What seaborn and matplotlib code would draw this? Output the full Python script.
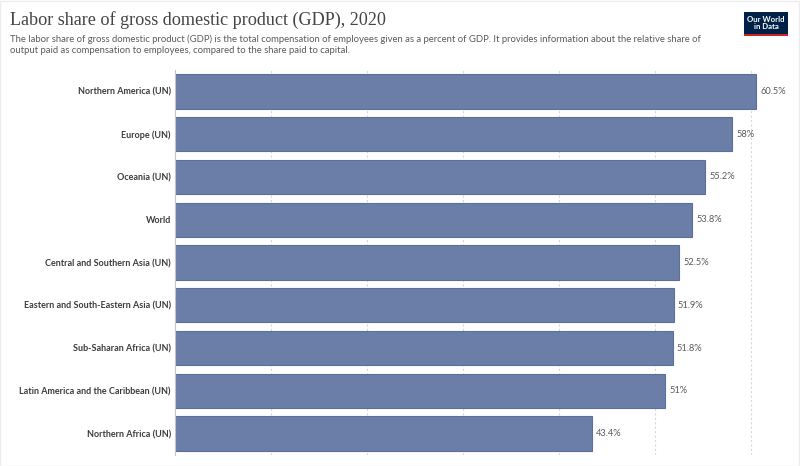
import matplotlib
matplotlib.use("Agg")
import matplotlib.pyplot as plt
import matplotlib.patches as mpatches
import pandas as pd
import seaborn as sns

regions = [
    "Northern America (UN)",
    "Europe (UN)",
    "Oceania (UN)",
    "World",
    "Central and Southern Asia (UN)",
    "Eastern and South-Eastern Asia (UN)",
    "Sub-Saharan Africa (UN)",
    "Latin America and the Caribbean (UN)",
    "Northern Africa (UN)",
]
labor_share = [60.5, 58.0, 55.2, 53.8, 52.5, 51.9, 51.8, 51.0, 43.4]
value_labels = ["60.5%", "58%", "55.2%", "53.8%", "52.5%", "51.9%", "51.8%", "51%", "43.4%"]
grid_ticks = [10, 20, 30, 40, 50, 60]

TITLE = "Labor share of gross domestic product (GDP), 2020"
SUBTITLE = ("The labor share of gross domestic product (GDP) is the total compensation of employees given as a percent of GDP. "
            "It provides information about the relative share of\n"
            "output paid as compensation to employees, compared to the share paid to capital.")

df = pd.DataFrame({"region": regions, "share": labor_share})

sns.set_theme(style="white")
plt.rcParams["font.family"] = ["Lato", "DejaVu Sans"]

fig = plt.figure(figsize=(8, 4.66), dpi=100)
ax = fig.add_axes([175 / 800, 1 - 455 / 466, 610 / 800, 385 / 466])

sns.barplot(data=df, x="share", y="region", orient="h", color="#6a7ea7",
            saturation=1, width=0.8, edgecolor="#5b6f99", linewidth=0.8, ax=ax)

ax.set_xlim(0, 63.5)
ax.set_ylim(len(regions) - 0.5, -0.5)
ax.set_xticks(grid_ticks)
ax.set_xticklabels([])
ax.tick_params(axis="x", length=0)
ax.tick_params(axis="y", length=0, pad=3)
for lbl in ax.get_yticklabels():
    lbl.set_fontsize(6.45)
    lbl.set_fontweight("bold")
    lbl.set_color("#3d3d3d")
ax.xaxis.grid(True, linestyle=(0, (2, 2)), color="#d8d8d8", linewidth=0.8)
ax.set_axisbelow(True)
for side in ["top", "right", "bottom"]:
    ax.spines[side].set_visible(False)
ax.spines["left"].set_color("#c4c4c4")
ax.spines["left"].set_linewidth(0.8)
ax.set_xlabel("")
ax.set_ylabel("")

for i, (v, t) in enumerate(zip(labor_share, value_labels)):
    ax.text(v + 0.45, i, t, va="center", ha="left", fontsize=6.7, color="#5b5b5b")

fig.text(10 / 800, 1 - 20 / 466, TITLE, family="Liberation Serif", fontsize=13.1,
         color="#444444", va="center", ha="left")
fig.text(10 / 800, 1 - 34 / 466, SUBTITLE, fontsize=6.8, color="#5b5b5b",
         va="top", ha="left", linespacing=1.3)

# logo
logo = mpatches.Rectangle((744 / 800, 1 - 36 / 466), 44 / 800, 24 / 466,
                          transform=fig.transFigure, facecolor="#002147", edgecolor="none")
stripe = mpatches.Rectangle((744 / 800, 1 - 36 / 466), 44 / 800, 2 / 466,
                            transform=fig.transFigure, facecolor="#ce261e", edgecolor="none")
frame = mpatches.Rectangle((0.0005, 0.001), 0.998, 0.997, transform=fig.transFigure,
                           facecolor="none", edgecolor="#ececec", linewidth=1)
fig.patches.extend([logo, stripe, frame])
fig.text(766 / 800, 1 - 23 / 466, "Our World\nin Data", color="white", fontsize=5.6,
         fontweight="bold", ha="center", va="center", linespacing=1.0)

fig.savefig("out.png", dpi=100)
